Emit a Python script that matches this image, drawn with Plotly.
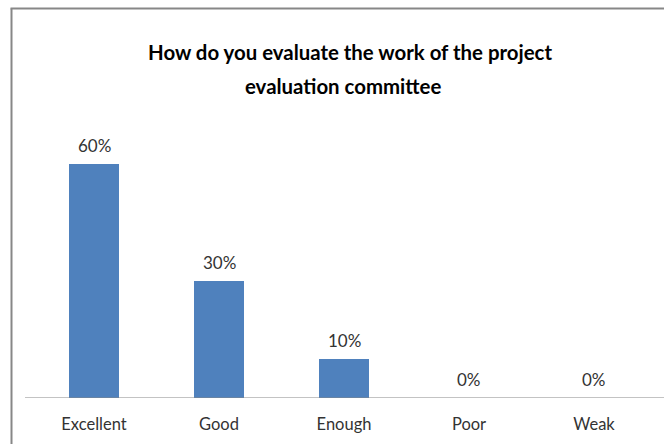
import plotly.graph_objects as go

categories = ["Excellent", "Good", "Enough", "Poor", "Weak"]
values = [0.60, 0.30, 0.10, 0.0, 0.0]
title_lines = ["How do you evaluate the work of the project", "evaluation committee"]

W, H = 664, 444
font_fam = "Lato, Carlito, Calibri, sans-serif"
label_color = "#333333"
border_color = "#878787"

fig = go.Figure(go.Bar(
    x=categories, y=values,
    marker=dict(color="#4F81BD", line=dict(width=0)),
    cliponaxis=False, width=0.4, hoverinfo="x+y",
))

annotations = []
# data labels
for c, v in zip(categories, values):
    annotations.append(dict(x=c, y=v, xref="x", yref="y", text=f"{v:.0%}",
                            showarrow=False, yanchor="middle", yshift=19,
                            font=dict(family=font_fam, size=17, color=label_color)))
# title lines
title_centers = [(350, 52), (343, 86)]
for txt, (cx, cy) in zip(title_lines, title_centers):
    annotations.append(dict(x=cx / W, y=1 - cy / H, xref="paper", yref="paper", text=txt,
                            showarrow=False, xanchor="center", yanchor="middle",
                            font=dict(family=font_fam, size=20.4, color="black", weight="bold")))

fig.update_layout(
    width=W, height=H,
    margin=dict(l=0, r=0, t=0, b=0),
    paper_bgcolor="white", plot_bgcolor="white",
    showlegend=False,
    xaxis=dict(domain=[31.5/W, 656.5/W], showgrid=False, showline=False, ticks="",
               ticklabelstandoff=14,
               tickfont=dict(family=font_fam, size=16.5, color=label_color)),
    yaxis=dict(domain=[(H-398)/H, (H-125)/H], range=[0, 0.7], visible=False),
    annotations=annotations,
    shapes=[
        # chart-area border (only left and top edges fall inside the picture)
        dict(type="line", xref="paper", yref="paper", x0=11.5/W, x1=11.5/W, y0=0, y1=1 - 8.5/H,
             line=dict(color=border_color, width=2)),
        dict(type="line", xref="paper", yref="paper", x0=10.5/W, x1=1, y0=1 - 8.5/H, y1=1 - 8.5/H,
             line=dict(color=border_color, width=2)),
        # category axis line
        dict(type="line", xref="paper", yref="y", x0=25/W, x1=1.0, y0=0, y1=0,
             line=dict(color=border_color, width=1)),
    ],
    font=dict(family=font_fam),
)

fig.write_html("out.html", config={"displayModeBar": False})

# remove default body margin so the figure sits at the window origin
with open("out.html", "r", encoding="utf-8") as f:
    html = f.read()
html = html.replace("<head>", "<head><style>html,body{margin:0;padding:0;overflow:hidden;}</style>", 1)
with open("out.html", "w", encoding="utf-8") as f:
    f.write(html)
